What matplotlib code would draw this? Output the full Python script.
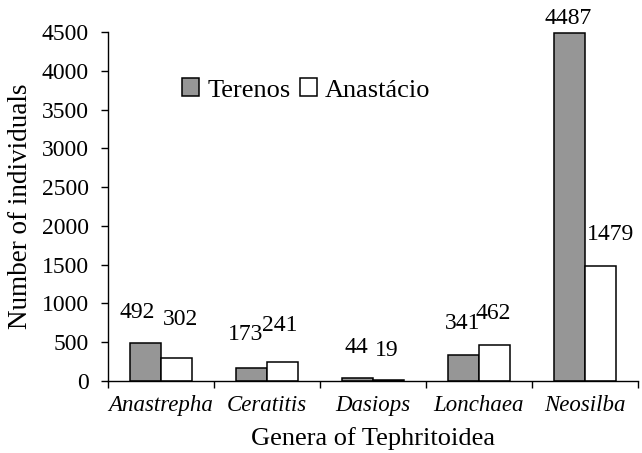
import matplotlib
matplotlib.use("Agg")
import matplotlib.pyplot as plt
import numpy as np

genera = ["Anastrepha", "Ceratitis", "Dasiops", "Lonchaea", "Neosilba"]
terenos = [492, 173, 44, 341, 4487]
anastacio = [302, 241, 19, 462, 1479]
series_names = ["Terenos", "Anastácio"]
yticks = [0, 500, 1000, 1500, 2000, 2500, 3000, 3500, 4000, 4500]

# label offsets in points (style), (dx, dy) from bar top center
off_t = [(-6, 14), (-4, 16), (-1, 14), (-1, 15), (-1, 3)]
off_a = [(3, 20), (-2, 19), (-1, 13), (-1, 15), (7, 15)]

plt.rcParams['font.family'] = ['Liberation Serif', 'DejaVu Serif']
fs = 17

fig = plt.figure(figsize=(6.42, 4.53), dpi=100)
ax = fig.add_axes([108/642, 1-381/453, 530/642, 349/453])

x = np.arange(len(genera))
w = 0.29
b1 = ax.bar(x - w/2, terenos, w, color="#969696", edgecolor="black", linewidth=1.1, label=series_names[0])
b2 = ax.bar(x + w/2, anastacio, w, color="white", edgecolor="black", linewidth=1.1, label=series_names[1])

for bars, vals, offs in [(b1, terenos, off_t), (b2, anastacio, off_a)]:
    for r, v, (dx, dy) in zip(bars, vals, offs):
        ax.annotate(str(v), (r.get_x() + r.get_width()/2, r.get_height()),
                    xytext=(dx, dy), textcoords="offset points",
                    ha="center", va="bottom", fontsize=fs)

ax.set_xlim(-0.5, len(genera) - 0.5)
ax.set_ylim(0, 4500)
ax.set_yticks(yticks)
ax.set_yticklabels([str(t) for t in yticks], fontsize=fs)
ax.set_xticks(np.arange(len(genera) + 1) - 0.5)
ax.set_xticklabels([])
ax.set_xticks(x, minor=True)
ax.set_xticklabels(genera, minor=True, fontsize=16.5, style="italic")
ax.tick_params(axis="x", which="minor", length=0, pad=10)
ax.tick_params(axis="x", which="major", length=5, direction="out", width=1)
ax.tick_params(axis="y", length=5, direction="out", width=1, pad=9)
for s in ["top", "right"]:
    ax.spines[s].set_visible(False)
ax.spines["left"].set_linewidth(1)
ax.spines["bottom"].set_linewidth(1)

ax.set_ylabel("Number of individuals", fontsize=19.5, labelpad=6)
ax.set_xlabel("Genera of Tephritoidea", fontsize=19, labelpad=8)

leg = fig.legend(loc="center left", bbox_to_anchor=(182/642, 1-90/453), frameon=False,
                 ncol=2, fontsize=19, handlelength=0.65, handleheight=0.65,
                 handletextpad=0.3, columnspacing=0.35, borderaxespad=0, borderpad=0)

fig.savefig("out.png", dpi=100)
